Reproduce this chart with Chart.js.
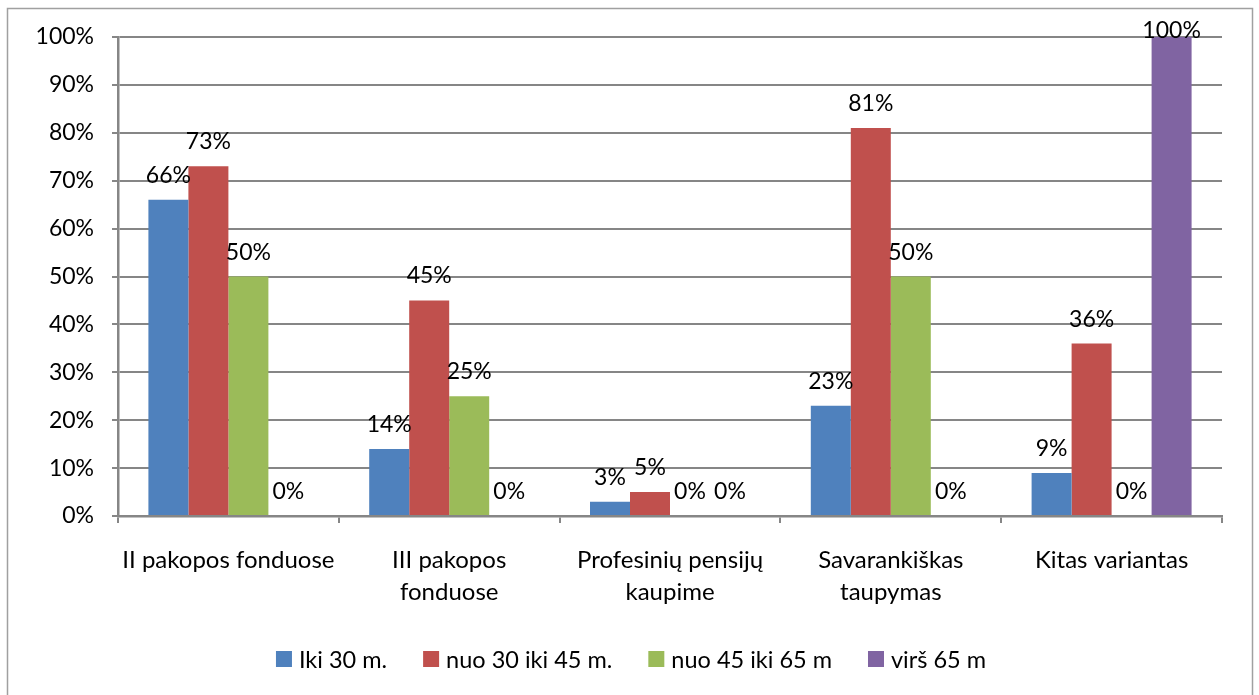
<!DOCTYPE html>
<html>
<head>
<meta charset="utf-8">
<script src="https://cdn.jsdelivr.net/npm/chart.js@4.4.1/dist/chart.umd.min.js"></script>
<style>
  html, body { margin: 0; padding: 0; background: #ffffff; }
  #wrap { width: 1259px; height: 695px; position: relative; }
</style>
</head>
<body>
<div id="wrap"><canvas id="c" width="1259" height="695"></canvas></div>
<script>
// Categories (multi-line labels under the x axis)
const categories = [
  'II pakopos fonduose',
  ['III pakopos', 'fonduose'],
  ['Profesinių pensijų', 'kaupime'],
  ['Savarankiškas', 'taupymas'],
  'Kitas variantas'
];

// Series names
const seriesNames = ['Iki 30 m.', 'nuo 30 iki 45 m.', 'nuo 45 iki 65 m', 'virš 65 m'];

// Shares in percent per age group
const iki30 = [66, 14, 3, 23, 9];
const nuo30iki45 = [73, 45, 5, 81, 36];
const nuo45iki65 = [50, 25, 0, 50, 0];
const virs65 = [0, 0, 0, 0, 100];

// Y axis ticks
const yTicks = [0, 10, 20, 30, 40, 50, 60, 70, 80, 90, 100];

const colors = ['#4F81BD', '#C0504D', '#9BBB59', '#8064A2'];
const FONT = 'Lato, "Open Sans", sans-serif';
const axisGray = '#868686';

// Frame around the whole chart
const framePlugin = {
  id: 'frame',
  beforeDraw(chart) {
    const ctx = chart.ctx;
    ctx.save();
    ctx.fillStyle = '#ffffff';
    ctx.fillRect(0, 0, chart.width, chart.height);
    ctx.strokeStyle = '#a0a0a0';
    ctx.lineWidth = 1.5;
    ctx.strokeRect(7.5, 8.5, 1245, 710);
    ctx.restore();
  }
};

// Value labels above each bar
const valueLabels = {
  id: 'valueLabels',
  afterDatasetsDraw(chart) {
    const ctx = chart.ctx;
    ctx.save();
    ctx.font = '23px ' + FONT;
    ctx.fillStyle = '#000000';
    ctx.textAlign = 'center';
    ctx.textBaseline = 'alphabetic';
    chart.data.datasets.forEach((ds, i) => {
      const meta = chart.getDatasetMeta(i);
      meta.data.forEach((bar, j) => {
        const v = ds.data[j];
        const y = Math.max(bar.y - 17, 38);
        ctx.fillText(v + '%', bar.x, y);
      });
    });
    ctx.restore();
  }
};

// Legend row below the axis labels
const legendRow = {
  id: 'legendRow',
  afterDraw(chart) {
    const ctx = chart.ctx;
    ctx.save();
    ctx.font = '23.5px ' + FONT;
    const box = 16, gap = 7, spacing = 36;
    const items = chart.data.datasets.map(ds => ({
      label: ds.label, color: ds.backgroundColor,
      w: box + gap + ctx.measureText(ds.label).width
    }));
    const total = items.reduce((s, it) => s + it.w, 0) + spacing * (items.length - 1);
    let x = 631 - total / 2;
    const cy = 659;
    ctx.textBaseline = 'middle';
    ctx.textAlign = 'left';
    items.forEach(it => {
      ctx.fillStyle = it.color;
      ctx.fillRect(x, cy - box / 2, box, box);
      ctx.fillStyle = '#000000';
      ctx.fillText(it.label, x + box + gap, cy + 1);
      x += it.w + spacing;
    });
    ctx.restore();
  }
};

const datasets = [iki30, nuo30iki45, nuo45iki65, virs65].map((vals, i) => ({
  label: seriesNames[i],
  data: vals,
  backgroundColor: colors[i],
  borderWidth: 0,
  categoryPercentage: 0.7246,
  barPercentage: 1.0
}));

new Chart(document.getElementById('c'), {
  type: 'bar',
  data: { labels: categories, datasets },
  options: {
    responsive: false,
    animation: false,
    devicePixelRatio: 1,
    layout: { padding: { top: 37, right: 37, left: 0, bottom: 0 } },
    plugins: {
      legend: { display: false },
      tooltip: { enabled: false }
    },
    scales: {
      x: {
        afterFit(scale) { scale.height = 179; },
        grid: {
          offset: true,
          drawOnChartArea: false,
          drawTicks: true,
          tickLength: 7,
          color: axisGray,
          lineWidth: 2
        },
        border: { display: true, color: axisGray, width: 2.5 },
        ticks: {
          color: '#000000',
          padding: 22,
          maxRotation: 0,
          autoSkip: false,
          font: { family: FONT, size: 24, lineHeight: 1.3 }
        }
      },
      y: {
        min: 0,
        max: 100,
        afterFit(scale) { scale.width = 118; },
        afterBuildTicks(scale) { scale.ticks = yTicks.map(v => ({ value: v })); },
        grid: {
          color: axisGray,
          lineWidth: 2,
          drawTicks: true,
          tickLength: 6
        },
        border: { display: true, color: axisGray, width: 2.5 },
        ticks: {
          color: '#000000',
          padding: 18,
          font: { family: FONT, size: 23 },
          callback: v => v + '%'
        }
      }
    }
  },
  plugins: [framePlugin, valueLabels, legendRow]
});
</script>
</body>
</html>
